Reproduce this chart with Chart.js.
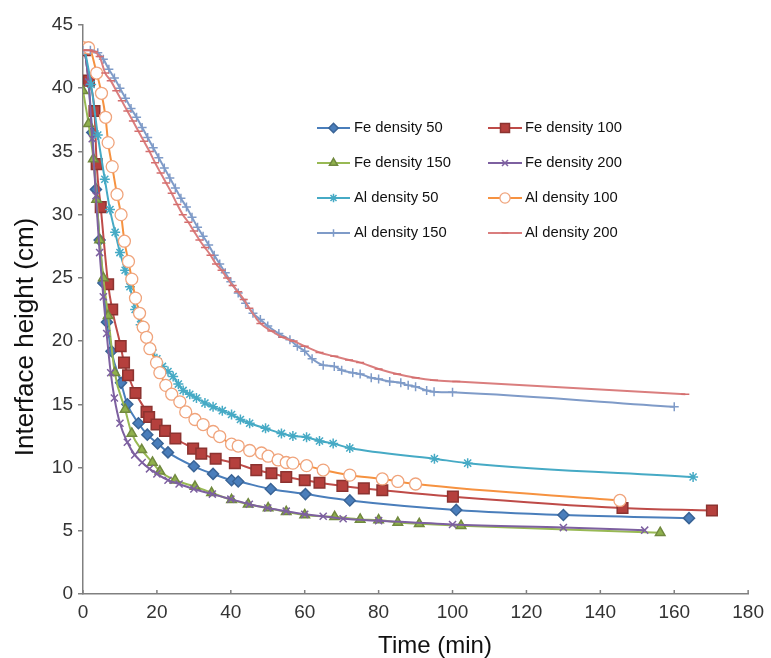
<!DOCTYPE html>
<html>
<head>
<meta charset="utf-8">
<script src="https://cdn.jsdelivr.net/npm/chart.js@4/dist/chart.umd.min.js"></script>
<style>
  html, body { margin: 0; padding: 0; background: #fff; }
  #wrap { width: 771px; height: 658px; }
</style>
</head>
<body>
<div id="wrap"><canvas id="settlingChart" width="771" height="658"></canvas></div>
<script>
// series names, in legend order
const seriesNames = ['Fe density 50', 'Fe density 100', 'Fe density 150', 'Fe density 200',
                     'Al density 50', 'Al density 100', 'Al density 150', 'Al density 200'];

// time (min) / interface height (cm)
const feD50Time   = [0.5, 1.5, 2.5, 3.5, 4.5, 5.5, 6.5, 7.7, 10.3, 12, 15, 17.4, 20.2, 23, 30, 35.2, 40.2, 42, 50.8, 60.2, 72.2, 101, 130, 164];
const feD50Height = [43, 40.5, 36.5, 32, 28, 24.6, 21.5, 19.2, 16.7, 15.0, 13.5, 12.6, 11.9, 11.2, 10.1, 9.5, 9.0, 8.9, 8.3, 7.9, 7.4, 6.65, 6.25, 6.0];

const feD100Time   = [0.5, 1.6, 3.1, 3.7, 4.8, 6.8, 7.9, 10.2, 11.1, 12.2, 14.2, 17.2, 17.9, 19.9, 22.2, 25, 29.8, 32, 35.9, 41.1, 46.9, 51, 55, 60, 64, 70.2, 76, 81, 100.1, 146, 170.2];
const feD100Height = [43, 40.6, 38.2, 34.0, 30.6, 24.5, 22.5, 19.6, 18.3, 17.3, 15.9, 14.4, 14.0, 13.4, 12.9, 12.3, 11.5, 11.1, 10.7, 10.35, 9.8, 9.55, 9.25, 9.0, 8.8, 8.55, 8.35, 8.2, 7.7, 6.8, 6.6];

const feD150Time   = [0, 1.5, 2.8, 3.7, 4.5, 5.5, 6.8, 8.6, 11.4, 13.2, 15.9, 18.8, 20.8, 24.9, 30.3, 34.8, 40.2, 44.7, 50.1, 55, 60, 68.1, 75, 80, 85.2, 91, 102.3, 156.2];
const feD150Height = [39.8, 37.2, 34.4, 31.2, 28, 25, 22, 17.5, 14.6, 12.7, 11.4, 10.4, 9.7, 9.0, 8.5, 8.0, 7.45, 7.1, 6.8, 6.5, 6.25, 6.1, 5.9, 5.85, 5.65, 5.55, 5.4, 4.85];

const feD200Time   = [0.5, 1.5, 2.5, 3.5, 4.5, 5.5, 6.4, 7.5, 8.5, 10, 12, 14, 16, 18, 20, 23, 26, 30, 35, 40, 45, 50, 55, 60, 65, 70.4, 80, 100, 130, 152];
const feD200Height = [43, 40.5, 36, 31.5, 27, 23.5, 20.6, 17.5, 15.5, 13.5, 12, 11, 10.4, 9.9, 9.5, 9.0, 8.7, 8.3, 7.9, 7.5, 7.1, 6.8, 6.55, 6.3, 6.15, 5.95, 5.8, 5.5, 5.25, 5.05];

const alD50Time   = [0.5, 2.2, 4, 5.9, 7.3, 8.7, 10, 11.4, 12.7, 14.1, 15.6, 17.2, 18.6, 20, 21.5, 23, 24.4, 25.8, 27.1, 28.9, 30.7, 33, 35.2, 37.7, 40.2, 42.6, 45.1, 49.4, 53.7, 56.8, 60.5, 64, 67.7, 72.2, 95.1, 104.1, 165.1];
const alD50Height = [43, 40.3, 36.3, 32.8, 30.4, 28.6, 27, 25.6, 24.3, 22.5, 21.3, 20.2, 19.3, 18.6, 18.0, 17.6, 17.2, 16.6, 16.1, 15.8, 15.5, 15.1, 14.8, 14.5, 14.2, 13.8, 13.5, 13.1, 12.7, 12.5, 12.4, 12.1, 11.9, 11.55, 10.7, 10.35, 9.25];

const alD100Time   = [0, 1.5, 3.7, 5, 6.1, 6.8, 7.9, 9.2, 10.3, 11.2, 12.3, 13.2, 14.2, 15.3, 16.3, 17.2, 18.1, 19.9, 20.8, 22.4, 24, 26.2, 27.8, 30.3, 32.5, 35.2, 37, 40.2, 42, 45.1, 48.3, 50.1, 52.8, 55, 56.8, 60.5, 65, 72.2, 81, 85.2, 90, 145.3];
const alD100Height = [43.2, 43.2, 41.2, 39.6, 37.7, 35.7, 33.8, 31.6, 30.0, 27.9, 26.3, 24.9, 23.4, 22.2, 21.1, 20.3, 19.4, 18.3, 17.5, 16.5, 15.8, 15.2, 14.4, 13.8, 13.4, 12.85, 12.45, 11.85, 11.7, 11.35, 11.15, 10.9, 10.6, 10.4, 10.35, 10.15, 9.8, 9.4, 9.1, 8.9, 8.7, 7.4];

const alD150Time   = [0, 2, 4, 5.5, 7, 8.5, 10, 11.5, 13, 14.5, 16, 17.5, 19, 20.5, 22, 23.5, 25, 26.5, 28, 29.5, 31, 32.5, 34, 35.5, 37, 38.5, 40, 42, 44, 46, 48, 50, 53, 56, 58, 60, 62, 65, 68, 70, 73, 75, 78, 80, 83, 86, 88, 90, 93, 95, 100, 160];
const alD150Height = [43, 43, 42.8, 42.3, 41.5, 40.8, 40.0, 39.2, 38.4, 37.7, 36.9, 36.1, 35.3, 34.5, 33.7, 32.9, 32.1, 31.3, 30.6, 29.8, 29.0, 28.3, 27.6, 26.8, 26.1, 25.4, 24.7, 23.8, 23.0, 22.2, 21.7, 21.2, 20.6, 20.1, 19.6, 19.2, 18.6, 18.1, 18.0, 17.7, 17.5, 17.4, 17.1, 17.0, 16.8, 16.7, 16.5, 16.4, 16.1, 16.0, 15.95, 14.8];

const alD200Time   = [0, 1.5, 3, 4.5, 6, 7.5, 9, 10.5, 12, 13.5, 15, 16.5, 18, 19.5, 21, 22.5, 24, 25.5, 27, 28.5, 30, 31.5, 33, 34.5, 36, 37.5, 39, 40.5, 42, 43.5, 45, 48, 51, 54, 57, 60, 64, 68, 72, 75, 80, 85, 90, 95, 101, 163];
const alD200Height = [43, 43, 42.9, 42.5, 41.2, 40.6, 39.8, 39.0, 38.2, 37.4, 36.6, 35.8, 35.0, 34.1, 33.3, 32.5, 31.7, 30.8, 30.0, 29.4, 28.7, 28.0, 27.4, 26.8, 26.1, 25.6, 25.0, 24.4, 23.9, 23.3, 22.6, 21.4, 20.8, 20.3, 20.0, 19.6, 19.1, 18.8, 18.5, 18.3, 17.8, 17.4, 17.1, 16.9, 16.8, 15.8];

const xTicks = [0, 20, 40, 60, 80, 100, 120, 140, 160, 180];
const yTicks = [0, 5, 10, 15, 20, 25, 30, 35, 40, 45];

const seriesTimes   = [feD50Time, feD100Time, feD150Time, feD200Time, alD50Time, alD100Time, alD150Time, alD200Time];
const seriesHeights = [feD50Height, feD100Height, feD150Height, feD200Height, alD50Height, alD100Height, alD150Height, alD200Height];

// look of each series (excel 2007 style)
const styles = [
  { line: '#4A7EBB', fill: '#4A7EBB', edge: '#3A6496', shape: 'rectRot', r: 5.5 },
  { line: '#BE4B48', fill: '#B5403D', edge: '#8C3330', shape: 'rect', r: 7.5 },
  { line: '#98B954', fill: '#8FB04C', edge: '#71893F', shape: 'triangle', r: 5.5 },
  { line: '#7D60A0', fill: '#7D60A0', edge: '#7D60A0', shape: 'crossRot', r: 5 },
  { line: '#46AAC5', fill: '#46AAC5', edge: '#46AAC5', shape: 'star', r: 5 },
  { line: '#F69240', fill: '#FFFFFF', edge: '#F0A47C', shape: 'circle', r: 6 },
  { line: '#7F9BC8', fill: '#7F9BC8', edge: '#7F9BC8', shape: 'cross', r: 4.5 },
  { line: '#DA7E7E', fill: '#DA7E7E', edge: '#D46E6E', shape: 'line', r: 4 }
];

const datasets = seriesNames.map((name, i) => ({
  label: name,
  data: seriesTimes[i].map((t, k) => ({ x: t, y: seriesHeights[i][k] })),
  showLine: true,
  borderColor: styles[i].line,
  borderWidth: 2,
  cubicInterpolationMode: 'monotone',
  pointStyle: styles[i].shape,
  pointRadius: styles[i].r,
  pointBackgroundColor: styles[i].fill,
  pointBorderColor: styles[i].edge,
  pointBorderWidth: styles[i].shape === 'circle' ? 1.3 : 1.5,
  order: seriesNames.length - i
}));

const axisColor = '#808080';
const tickFont = { family: "'Liberation Sans', Arial, sans-serif", size: 19 };

// legend drawn inside the plot, two columns
const insideLegend = {
  id: 'insideLegend',
  afterDraw(chart) {
    const ctx = chart.ctx;
    ctx.save();
    ctx.font = '18px "Liberation Sans Narrow", "Liberation Sans", sans-serif';
    const w = ctx.measureText('Fe density 100').width;
    const size = Math.min(18, 18 * 97 / w);
    ctx.font = size + 'px "Liberation Sans Narrow", "Liberation Sans", sans-serif';
    ctx.textBaseline = 'middle';
    ctx.fillStyle = '#111';
    const cols = [{ x0: 317, x1: 350, tx: 354 }, { x0: 488, x1: 522, tx: 525 }];
    const rows = [128, 163, 198, 233];
    chart.data.datasets.forEach((ds, i) => {
      const c = cols[i % 2];
      const y = rows[Math.floor(i / 2)];
      ctx.strokeStyle = ds.borderColor;
      ctx.lineWidth = 2;
      ctx.beginPath();
      ctx.moveTo(c.x0, y);
      ctx.lineTo(c.x1, y);
      ctx.stroke();
      ctx.fillStyle = ds.pointBackgroundColor;
      ctx.strokeStyle = ds.pointBorderColor;
      ctx.lineWidth = ds.pointBorderWidth;
      Chart.helpers.drawPoint(ctx, {
        pointStyle: ds.pointStyle,
        radius: ds.pointRadius * 0.85,
        borderWidth: ds.pointBorderWidth,
        rotation: 0
      }, (c.x0 + c.x1) / 2, y);
      ctx.fillStyle = '#111';
      ctx.fillText(ds.label, c.tx, y);
    });
    ctx.restore();
  }
};

// axis titles and the small inward ticks on the time axis
const axisDecor = {
  id: 'axisDecor',
  afterDraw(chart) {
    const ctx = chart.ctx;
    const xs = chart.scales.x;
    const area = chart.chartArea;
    ctx.save();
    ctx.strokeStyle = axisColor;
    ctx.lineWidth = 1.5;
    xTicks.forEach(v => {
      const px = xs.getPixelForValue(v);
      ctx.beginPath();
      ctx.moveTo(px, area.bottom);
      ctx.lineTo(px, area.bottom - 4);
      ctx.stroke();
    });
    ctx.fillStyle = '#111';
    ctx.textAlign = 'center';
    ctx.textBaseline = 'middle';
    ctx.font = "24px 'Liberation Sans', Arial, sans-serif";
    ctx.fillText('Time (min)', 435, 646);
    ctx.font = "26px 'Liberation Sans', Arial, sans-serif";
    ctx.translate(26, 337);
    ctx.rotate(-Math.PI / 2);
    ctx.fillText('Interface height (cm)', 0, 0);
    ctx.restore();
  }
};

new Chart(document.getElementById('settlingChart').getContext('2d'), {
  type: 'scatter',
  data: { datasets },
  options: {
    responsive: false,
    animation: false,
    layout: { padding: { left: 0, right: 22, top: 25, bottom: 0 } },
    plugins: { legend: { display: false }, tooltip: { enabled: false } },
    scales: {
      x: {
        type: 'linear',
        min: 0,
        max: 180,
        afterBuildTicks: scale => { scale.ticks = xTicks.map(v => ({ value: v })); },
        afterFit: scale => { scale.height = 64; },
        ticks: { font: tickFont, color: '#333', padding: 7, maxRotation: 0 },
        grid: { display: true, drawOnChartArea: false, drawTicks: false },
        border: { color: axisColor, width: 1.5 }
      },
      y: {
        type: 'linear',
        min: 0,
        max: 45,
        afterBuildTicks: scale => { scale.ticks = yTicks.map(v => ({ value: v })); },
        afterFit: scale => { scale.width = 83; },
        ticks: { font: tickFont, color: '#333', padding: 5 },
        grid: { display: true, drawOnChartArea: false, drawTicks: true, tickLength: 5, color: axisColor, lineWidth: 1.5 },
        border: { color: axisColor, width: 1.5 }
      }
    }
  },
  plugins: [insideLegend, axisDecor]
});
</script>
</body>
</html>
